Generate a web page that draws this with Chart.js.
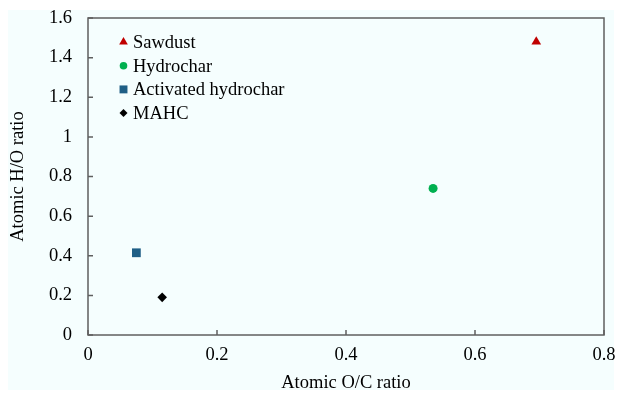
<!DOCTYPE html>
<html>
<head>
<meta charset="utf-8">
<script src="https://cdn.jsdelivr.net/npm/chart.js@4/dist/chart.umd.min.js"></script>
<style>
  html, body { margin: 0; padding: 0; background: #ffffff; }
  #wrap { width: 617px; height: 396px; position: relative; }
</style>
</head>
<body>
<div id="wrap"><canvas id="c" width="617" height="396"></canvas></div>
<script>
// Elemental ratios of the samples
const seriesNames = ['Sawdust', 'Hydrochar', 'Activated hydrochar', 'MAHC'];
const ocRatio = [0.695, 0.535, 0.075, 0.115];
const hoRatio = [1.48, 0.74, 0.415, 0.19];
const xTicks = [0, 0.2, 0.4, 0.6, 0.8];
const yTicks = [0, 0.2, 0.4, 0.6, 0.8, 1, 1.2, 1.4, 1.6];

const colors = ['#c00000', '#00b050', '#1f5f86', '#000000'];
const shapes = ['triangle', 'circle', 'rect', 'rectRot'];
const radii = [5.6, 4.5, 6.2, 4.8];
const legendRadii = [5, 3.8, 5.6, 4];
const FONT = '"Liberation Serif", "Times New Roman", serif';
const FS = 18.5;

const datasets = seriesNames.map((name, i) => ({
  label: name,
  data: [{ x: ocRatio[i], y: hoRatio[i] }],
  pointStyle: shapes[i],
  pointRadius: radii[i],
  pointHoverRadius: radii[i],
  backgroundColor: colors[i],
  borderColor: colors[i],
  borderWidth: 0
}));

const frameColor = '#5f5f5f';

const panelPlugin = {
  id: 'panel',
  beforeDraw(chart) {
    const ctx = chart.ctx;
    ctx.save();
    ctx.fillStyle = '#f5fefe';
    ctx.fillRect(8, 10, 606, 380);
    ctx.restore();
  },
  afterDatasetsDraw(chart) {
    const ctx = chart.ctx;
    const a = chart.chartArea;
    ctx.save();
    ctx.strokeStyle = frameColor;
    ctx.lineWidth = 1.5;
    ctx.strokeRect(a.left, a.top, a.right - a.left, a.bottom - a.top);
    // inward tick marks
    const xs = chart.scales.x, ys = chart.scales.y;
    ctx.beginPath();
    xs.ticks.forEach(t => {
      const px = xs.getPixelForValue(t.value);
      ctx.moveTo(px, a.bottom);
      ctx.lineTo(px, a.bottom - 5);
    });
    ys.ticks.forEach(t => {
      const py = ys.getPixelForValue(t.value);
      ctx.moveTo(a.left, py);
      ctx.lineTo(a.left + 5, py);
    });
    ctx.stroke();

    // legend inside the plot, top-left
    const lx = 123.5, ly0 = 42, step = 23.7;
    ctx.font = FS + 'px ' + FONT;
    ctx.textBaseline = 'middle';
    ctx.textAlign = 'left';
    chart.data.datasets.forEach((ds, i) => {
      const y = ly0 + i * step;
      ctx.fillStyle = ds.backgroundColor;
      ctx.strokeStyle = ds.backgroundColor;
      ctx.lineWidth = 0;
      Chart.helpers.drawPoint(ctx, {
        pointStyle: ds.pointStyle,
        radius: legendRadii[i],
        borderWidth: 0
      }, lx, y);
      ctx.fillStyle = '#000000';
      ctx.fillText(ds.label, lx + 9.5, y + 1);
    });
    ctx.restore();
  }
};

new Chart(document.getElementById('c'), {
  type: 'scatter',
  data: { datasets },
  options: {
    responsive: false,
    animation: false,
    devicePixelRatio: 1,
    layout: { padding: { left: 0, top: 18, right: 13, bottom: 0 } },
    plugins: {
      legend: { display: false },
      tooltip: { enabled: false }
    },
    scales: {
      x: {
        type: 'linear',
        min: 0, max: 0.8,
        afterBuildTicks(scale) { scale.ticks = xTicks.map(v => ({ value: v })); },
        afterFit(scale) {
          scale.height = 61;
          scale.paddingLeft = 0;
          scale.paddingRight = 0;
        },
        grid: { display: false, drawTicks: false },
        border: { display: false },
        ticks: {
          color: '#000000',
          padding: 9,
          font: { family: FONT, size: FS },
          callback: v => String(+v.toFixed(1))
        },
        title: {
          display: true,
          text: 'Atomic O/C ratio',
          color: '#000000',
          font: { family: FONT, size: FS },
          padding: { top: 2, bottom: 2 }
        }
      },
      y: {
        type: 'linear',
        min: 0, max: 1.6,
        afterBuildTicks(scale) { scale.ticks = yTicks.map(v => ({ value: v })); },
        afterFit(scale) {
          scale.width = 88;
          scale.paddingTop = 0;
          scale.paddingBottom = 0;
        },
        grid: { display: false, drawTicks: false },
        border: { display: false },
        ticks: {
          color: '#000000',
          padding: 16,
          font: { family: FONT, size: FS },
          callback: v => String(+v.toFixed(1))
        },
        title: {
          display: true,
          text: 'Atomic H/O ratio',
          color: '#000000',
          font: { family: FONT, size: FS },
          padding: { top: 7, bottom: 7 }
        }
      }
    }
  },
  plugins: [panelPlugin]
});
</script>
</body>
</html>
